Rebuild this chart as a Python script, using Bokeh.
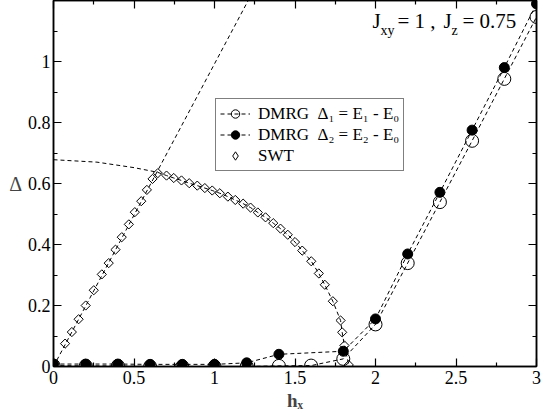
from bokeh.plotting import figure
from bokeh.models import (Range1d, LinearAxis, Label, Legend, LegendItem,
                          FixedTicker, CustomJSTickFormatter)
from bokeh.embed import file_html
from bokeh.resources import INLINE

# ---------------- data ----------------
hx_dmrg1 = [0.0, 0.2, 0.4, 0.6, 0.8, 1.0, 1.2, 1.4, 1.6, 1.8, 2.0, 2.2, 2.4, 2.6, 2.8, 3.0]
gap1 = [0.003, 0.002, 0.002, 0.0, 0.0, 0.0, 0.0, 0.002, 0.003, 0.025, 0.138, 0.339, 0.539, 0.740, 0.943, 1.146]

hx_dmrg2 = [0.0, 0.2, 0.4, 0.6, 0.8, 1.0, 1.2, 1.4, 1.8, 2.0, 2.2, 2.4, 2.6, 2.8, 3.0]
gap2 = [0.008, 0.008, 0.008, 0.007, 0.007, 0.007, 0.012, 0.040, 0.050, 0.156, 0.369, 0.571, 0.775, 0.980, 1.189]

# SWT points, low-field branch
swt_rise_h = [0.072, 0.114, 0.156, 0.200, 0.250, 0.300, 0.343, 0.385, 0.424, 0.468, 0.505, 0.545, 0.580, 0.615, 0.648]
swt_rise_gap = [0.075, 0.113, 0.155, 0.200, 0.250, 0.302, 0.339, 0.383, 0.424, 0.466, 0.506, 0.542, 0.579, 0.615, 0.634]
# SWT points, high-field branch
swt_dome_h = [0.702, 0.747, 0.795, 0.843, 0.893, 0.940, 0.986, 1.033, 1.083, 1.129, 1.178, 1.224,
              1.269, 1.317, 1.365, 1.410, 1.455, 1.500, 1.545, 1.601, 1.648, 1.685, 1.735, 1.783,
              1.793, 1.807, 1.834]
swt_dome_gap = [0.626, 0.618, 0.610, 0.601, 0.593, 0.585, 0.577, 0.568, 0.557, 0.546, 0.534, 0.521,
                0.505, 0.489, 0.470, 0.452, 0.432, 0.408, 0.380, 0.345, 0.305, 0.268, 0.214, 0.151,
                0.112, 0.069, 0.005]
# SWT analytic curves (dashed)
swt_line_rise_h = [0.0, 1.30]
swt_line_rise_gap = [0.0, 1.29]
swt_line_dome_h = [0.0, 0.27, 0.50, 0.645] + swt_dome_h
swt_line_dome_gap = [0.678, 0.670, 0.652, 0.637] + swt_dome_gap

x_major = [0, 0.5, 1, 1.5, 2, 2.5, 3]
x_minor = [0.25, 0.75, 1.25, 1.75, 2.25, 2.75]
y_major = [0, 0.2, 0.4, 0.6, 0.8, 1.0]
y_minor = [0.1, 0.3, 0.5, 0.7, 0.9, 1.1, 1.2]

FONT = "Liberation Serif"

# ---------------- figure ----------------
FW, FH = 483, 366
p = figure(frame_width=FW, frame_height=FH, output_backend="svg", toolbar_location=None,
           x_range=Range1d(0, 3), y_range=Range1d(0, 1.2),
           min_border_left=53, min_border_right=12, min_border_top=0, min_border_bottom=50,
           background_fill_color="white", border_fill_color="white")
p.grid.visible = False
p.outline_line_color = "black"
p.outline_line_width = 1.5

fmt = CustomJSTickFormatter(code="return String(Math.round(tick*100)/100);")

def style_axis(ax, ticks, minor, labels=True):
    ax.ticker = FixedTicker(ticks=ticks, minor_ticks=minor)
    ax.major_tick_in = 8
    ax.major_tick_out = 0
    ax.minor_tick_in = 4
    ax.minor_tick_out = 0
    ax.axis_line_width = 1.5
    ax.major_tick_line_width = 1.2
    ax.minor_tick_line_width = 1.2
    ax.axis_line_color = "black"
    ax.major_tick_line_color = "black"
    ax.minor_tick_line_color = "black"
    if labels:
        ax.formatter = fmt
        ax.major_label_text_font = FONT
        ax.major_label_text_font_size = "18px"
        ax.major_label_text_color = "black"
    else:
        ax.major_label_text_color = None
        ax.major_label_standoff = 0
        ax.axis_label_standoff = 0

style_axis(p.xaxis[0], x_major, x_minor)
p.xaxis[0].major_label_standoff = 4
style_axis(p.yaxis[0], y_major, y_minor)
p.yaxis[0].major_label_standoff = 3

# axis titles
p.yaxis[0].axis_label = "Δ"
p.yaxis[0].axis_label_orientation = "horizontal"
p.yaxis[0].axis_label_text_font = FONT
p.yaxis[0].axis_label_text_font_style = "normal"
p.yaxis[0].axis_label_text_font_size = "20px"
p.yaxis[0].axis_label_standoff = 3
p.xaxis[0].axis_label = "hₓ"
p.xaxis[0].axis_label_text_font = FONT
p.xaxis[0].axis_label_text_font_style = "bold"
p.xaxis[0].axis_label_text_font_size = "19px"
p.xaxis[0].axis_label_standoff = 3

top = LinearAxis()
style_axis(top, x_major, x_minor, labels=False)
p.add_layout(top, "above")
right = LinearAxis()
style_axis(right, y_major, y_minor, labels=False)
p.add_layout(right, "right")

# ---------------- glyphs ----------------
dash = "4 3"
l_rise = p.line(swt_line_rise_h, swt_line_rise_gap, line_color="black", line_width=1, line_dash=dash)
l_dome = p.line(swt_line_dome_h, swt_line_dome_gap, line_color="black", line_width=1, line_dash=dash)

l1 = p.line(hx_dmrg1, gap1, line_color="black", line_width=1, line_dash=dash)
l2 = p.line(hx_dmrg2, gap2, line_color="black", line_width=1, line_dash=dash)

# SWT markers: squares turned by 45 degrees (open diamonds)
d_rise = p.scatter(swt_rise_h, swt_rise_gap, marker="square", angle=0.785398, size=6.5,
                   fill_color=None, line_color="black", line_width=1)
d_dome = p.scatter(swt_dome_h, swt_dome_gap, marker="square", angle=0.785398, size=6.5,
                   fill_color=None, line_color="black", line_width=1)
# hidden twin used only to draw the legend key as a diamond
d_key = p.scatter(swt_rise_h, swt_rise_gap, marker="diamond", size=10, fill_color=None,
                  line_color="black", line_width=1, visible=False)

s1 = p.scatter(hx_dmrg1, gap1, marker="circle", size=13, fill_color=None,
               line_color="black", line_width=1)
s2 = p.scatter(hx_dmrg2, gap2, marker="circle", size=10, fill_color="black",
               line_color="black", line_width=1)

# ---------------- legend ----------------
legend = Legend(items=[
    LegendItem(label="DMRG  Δ₁ = E₁ - E₀", renderers=[l1, s1]),
    LegendItem(label="DMRG  Δ₂ = E₂ - E₀", renderers=[l2, s2]),
    LegendItem(label="SWT", renderers=[d_key]),
], location=(162, 195))
legend.label_text_font = FONT
legend.label_text_font_size = "17px"
legend.label_text_color = "black"
legend.border_line_color = "black"
legend.border_line_width = 1
legend.background_fill_color = "white"
legend.background_fill_alpha = 1
legend.inactive_fill_alpha = 0
legend.padding = 4
legend.spacing = 0
legend.margin = 0
legend.glyph_width = 30
legend.glyph_height = 21
legend.label_height = 21
legend.label_standoff = 8
p.add_layout(legend)

# ---------------- annotation ----------------
def fy(ref_y):
    return 366.0 - ref_y
def fx(ref_x):
    return ref_x - 53.0

def lab(text, x, y, size):
    p.add_layout(Label(x=x, y=y, x_units="screen", y_units="screen", text=text,
                       text_font=FONT, text_font_size=size, text_color="black",
                       text_align="left", text_baseline="middle"))

lab("J", fx(372), fy(20), "21px")
lab("xy", fx(380), fy(30), "14px")
lab("= 1 ,", fx(397), fy(20), "21px")
lab("J", fx(443), fy(20), "21px")
lab("z", fx(451), fy(30), "14px")
lab("= 0.75", fx(462), fy(20), "21px")

open("out.html", "w").write(file_html(p, INLINE))
